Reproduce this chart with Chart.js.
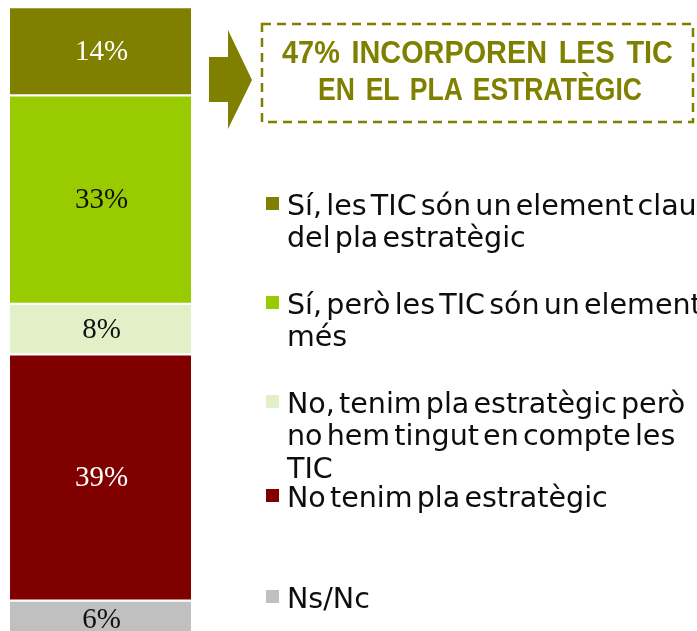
<!DOCTYPE html>
<html><head><meta charset="utf-8">
<script src="https://cdn.jsdelivr.net/npm/chart.js@4/dist/chart.umd.min.js"></script>
<style>
html,body{margin:0;padding:0;background:#fff;}
#wrap{position:relative;width:697px;height:631px;overflow:hidden;}
#c{position:absolute;left:0;top:0;}
#ov{position:absolute;left:0;top:0;}
</style></head><body>
<div id="wrap"><canvas id="c" width="697" height="631"></canvas><svg id="ov" width="697" height="631" xmlns="http://www.w3.org/2000/svg"></svg></div>
<script>
// ---- data ----
const categories = ['Pla estratègic'];
const seriesLabels = [
  ['Ns/Nc'],
  ['No tenim pla estratègic'],
  ['No, tenim pla estratègic però', 'no hem tingut en compte les', 'TIC'],
  ['Sí, però les TIC són un element', 'més'],
  ['Sí, les TIC són un element clau', 'del pla estratègic']
];
const seriesValues = [6, 39, 8, 33, 14];
const seriesColors = ['#C0C0C0', '#800000', '#E2F0C8', '#99CC00', '#808000'];
const valueLabelColors = ['#111111', '#FFFFFF', '#111111', '#111111', '#FFFFFF'];
const titleLines = ['47% INCORPOREN LES TIC', 'EN EL PLA ESTRATÈGIC'];

// ---- chart ----
const valueLabels = {
  id: 'valueLabels',
  afterDatasetsDraw(chart) {
    const ctx = chart.ctx;
    ctx.save();
    ctx.font = '29px "Liberation Serif", "Times New Roman", serif';
    ctx.textAlign = 'center';
    ctx.textBaseline = 'middle';
    chart.data.datasets.forEach((ds, i) => {
      const meta = chart.getDatasetMeta(i);
      meta.data.forEach((bar, j) => {
        const p = bar.getProps(['x', 'y', 'base'], true);
        ctx.fillStyle = valueLabelColors[i];
        ctx.fillText(ds.data[j] + '%', p.x + 1, (p.y + p.base) / 2 + 1);
      });
    });
    ctx.restore();
  }
};

const chart = new Chart(document.getElementById('c'), {
  type: 'bar',
  data: {
    labels: categories,
    datasets: seriesValues.map((v, i) => ({
      label: seriesLabels[i].join(' '),
      data: [v],
      backgroundColor: seriesColors[i],
      borderColor: '#FFFFFF',
      borderWidth: {top: 1.5, bottom: 1.5, left: 0, right: 0},
      borderSkipped: false,
      categoryPercentage: 1,
      barPercentage: 1,
      stack: 's'
    }))
  },
  options: {
    responsive: false,
    animation: false,
    devicePixelRatio: 1,
    layout: {padding: {left: 10, right: 506, top: 7, bottom: 0}},
    plugins: {legend: {display: false}, tooltip: {enabled: false}},
    scales: {
      x: {stacked: true, display: false},
      y: {stacked: true, display: false, min: 1.2, max: 100}
    }
  },
  plugins: [valueLabels]
});

// ---- overlay: arrow, dashed title box, legend ----
const NS = 'http://www.w3.org/2000/svg';
const svg = document.getElementById('ov');
function el(name, attrs, text) {
  const e = document.createElementNS(NS, name);
  for (const k in attrs) e.setAttribute(k, attrs[k]);
  if (text !== undefined) e.textContent = text;
  svg.appendChild(e);
  return e;
}
const olive = '#808000';
el('polygon', {points: '209,57 228,57 228,30 252,80 228,129 228,102 209,102', fill: olive});
el('rect', {x: 262, y: 24, width: 431, height: 98, fill: 'none', stroke: olive,
  'stroke-width': 2.5, 'stroke-dasharray': '9 6'});

const titleBase = [63, 100];
const titleWidth = [391, 324];
const titleCx = [477.5, 480];
titleLines.forEach((t, i) => {
  const tx = el('text', {x: titleCx[i], y: titleBase[i], 'text-anchor': 'middle',
    'font-family': '"Liberation Sans", Arial, sans-serif', 'font-weight': 'bold',
    'font-size': 32, fill: olive, style: 'word-spacing:4px'}, t);
  const w = tx.getComputedTextLength();
  const s = titleWidth[i] / w;
  tx.setAttribute('transform', `translate(${titleCx[i]},0) scale(${s},1) translate(${-titleCx[i]},0)`);
});

// legend: top to bottom is reverse of stack order
const legendBase = [215, 314, 413, 507, 608];
const lineStep = 32.5;
const textX = 287;
const order = seriesLabels.map((_, i) => i).reverse();
const texts = [];
order.forEach((di, k) => {
  const b = legendBase[k];
  el('rect', {x: 266, y: b - 18, width: 13, height: 13, fill: seriesColors[di]});
  seriesLabels[di].forEach((line, li) => {
    texts.push(el('text', {x: textX, y: b + li * lineStep,
      'font-family': '"DejaVu Sans", Verdana, sans-serif', 'font-size': 29, fill: '#0D0D0D',
      style: 'word-spacing:-5px'}, line));
  });
});
// uniform horizontal fit: first line spans 287..697
const w0 = texts[0].getComputedTextLength();
const sx = 410 / w0;
texts.forEach(t => t.setAttribute('transform', `translate(${textX},0) scale(${sx},1) translate(${-textX},0)`));
</script>
</body></html>
